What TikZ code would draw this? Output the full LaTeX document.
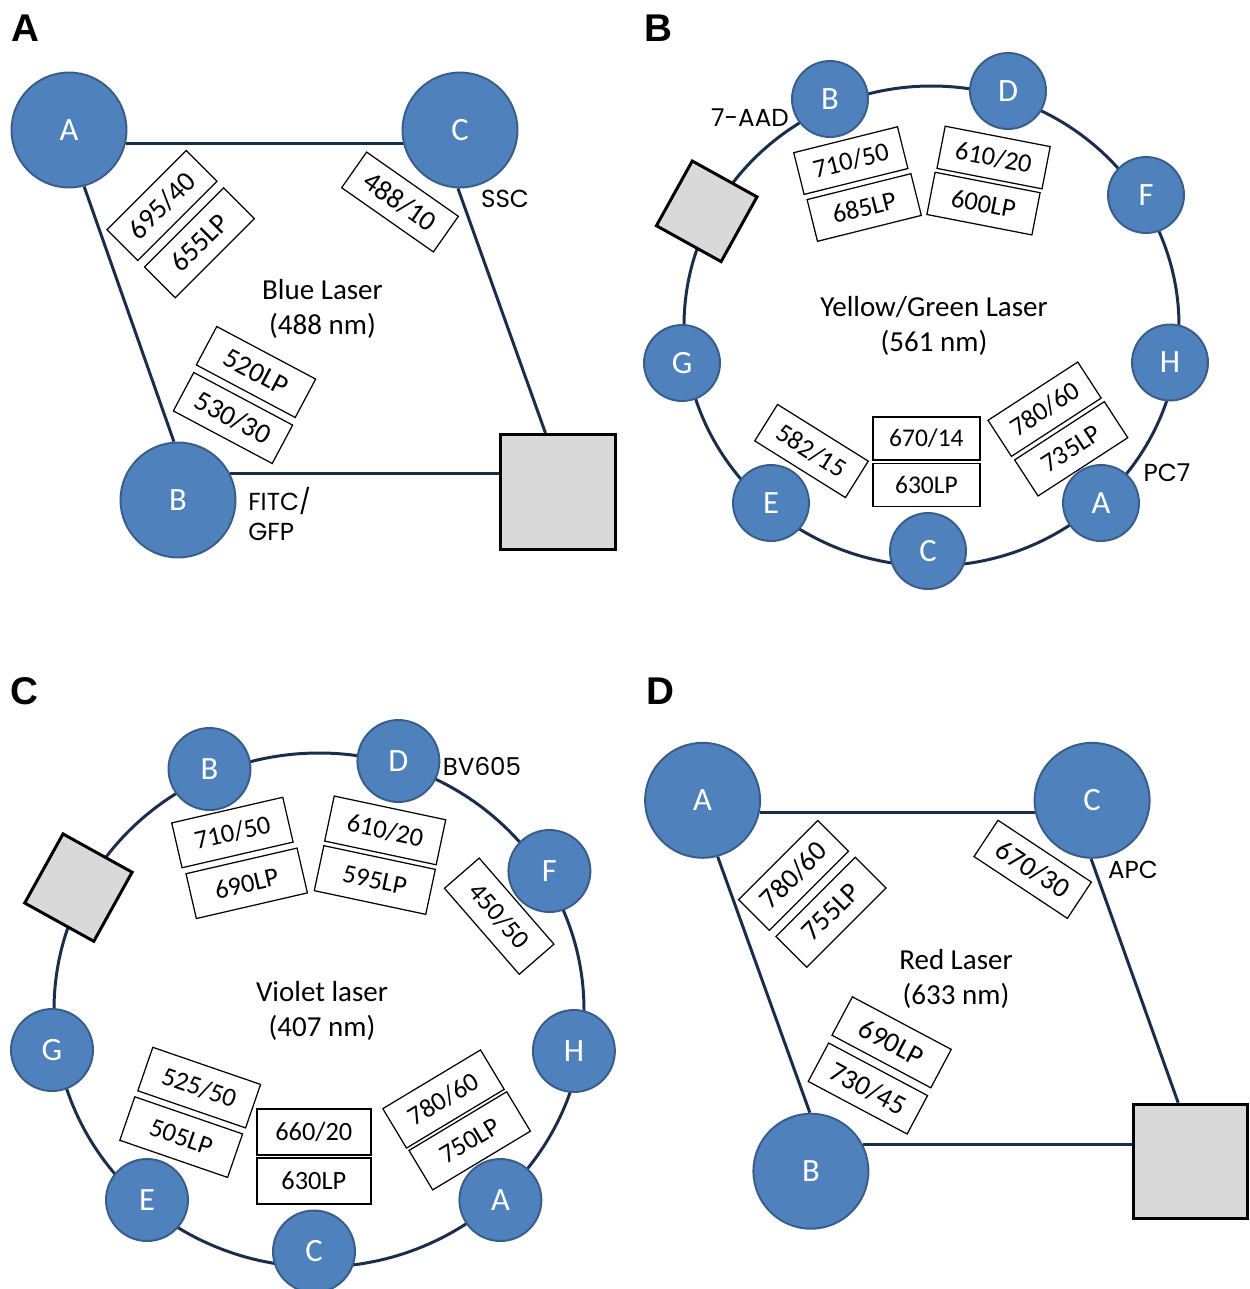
\documentclass[tikz,border=0pt]{standalone}
\usepackage{fontspec}
\setmainfont{Carlito}
\newfontfamily\notefnt{Poppins}
\newfontfamily\panelfnt{Liberation Sans}
\definecolor{detblue}{HTML}{4F81BD}
\definecolor{detedge}{HTML}{385D8A}
\definecolor{beamcol}{HTML}{1A2E4C}
\definecolor{sqgray}{HTML}{D9D9D9}
\pgfdeclarelayer{bg}
\pgfsetlayers{bg,main}
\tikzset{
  det/.style={circle, fill=detblue, draw=detedge, line width=1.1pt, text=white, font=\fontsize{18.5}{20}\selectfont, inner sep=0pt},
  bigdet/.style={det, minimum size=2.3cm},
  smalldet/.style={det, minimum size=1.52cm},
  middet/.style={det, minimum size=1.64cm},
  filt/.style={draw=black, fill=white, line width=0.7pt, inner sep=0pt, font=\fontsize{15}{17}\selectfont},
  filtAD/.style={filt, minimum width=2.24cm, minimum height=0.87cm, font=\fontsize{16}{18}\selectfont},
  filtB/.style={filt, minimum width=2.14cm, minimum height=0.86cm},
  filtC/.style={filt, minimum width=2.28cm, minimum height=0.92cm},
  flat/.style={line width=1.1pt, font=\fontsize{14.5}{17}\selectfont},
  gsq/.style={draw=black, fill=sqgray, line width=1.7pt, inner sep=0pt},
  beam/.style={draw=beamcol, line width=1.7pt},
  note/.style={font=\notefnt\fontsize{14}{17.6}\selectfont, inner sep=0pt},
  lasertitle/.style={align=center, inner sep=0pt, font=\fontsize{16.5}{20}\selectfont},
  panel/.style={font=\panelfnt\bfseries\fontsize{22}{24}\selectfont, inner sep=0pt},
}
\begin{document}
\begin{tikzpicture}[x=0.02cm, y=-0.02cm]
\useasboundingbox (0,0) rectangle (1249,1289);
\begin{pgfonlayer}{bg}
\fill[white] (0,0) rectangle (1249,1289);
\end{pgfonlayer}

% ================= Panel A =================
\node[panel] (pA) at (25,28) {A};
\node[bigdet] (A1) at (69,130) {A};
\node[bigdet] (C1) at (460,130) {C};
\node[bigdet] (B1) at (178,500) {B};
\node[gsq, minimum size=2.3cm] (S1) at (558,492) {};
\node[filtAD, rotate=45] (fa1) at (162,205.5) {695/40};
\node[filtAD, rotate=45] (fa2) at (199.4,242.8) {655LP};
\node[filtAD, rotate=-35] (fa3) at (400,202) {488/10};
\node[filtAD, rotate=-28] (fa4) at (256,372) {520LP};
\node[filtAD, rotate=-28] (fa5) at (233,418) {530/30};
\node[lasertitle] (tA) at (322.5,309) {Blue Laser\\(488 nm)};
\node[note] (nA1) at (505,199) {SSC};
\node[note, anchor=west, align=left] (nA2) at (248,514) {FITC/\\GFP};
\begin{pgfonlayer}{bg}
\draw[beam] (A1.-13) -- (A1.-13 -| C1.center);
\draw[beam] (A1.-75) -- (B1.94);
\draw[beam] (C1.-92) -- (S1.102);
\draw[beam] (B1.27) -- (B1.27 -| S1.center);
\end{pgfonlayer}

% ================= Panel B =================
\node[panel] (pB) at (658,28) {B};
\coordinate (ringB) at (931.5,326);
\begin{pgfonlayer}{bg}
\draw[beam] (ringB) ellipse [x radius=247.5, y radius=240];
\end{pgfonlayer}
\node[gsq, minimum size=1.48cm, rotate=-29] (S2) at (706.7,211.3) {};
\node[filtB, rotate=14] (fb1) at (850.8,160.6) {710/50};
\node[filtB, rotate=14] (fb2) at (864.2,207.5) {685LP};
\node[filtB, rotate=-11] (fb3) at (993.6,157.5) {610/20};
\node[filtB, rotate=-11] (fb4) at (983.5,203.6) {600LP};
\node[filtB, rotate=-32] (fb5) at (811.5,451) {582/15};
\node[filtB, flat] (fb6) at (926.4,438.4) {670/14};
\node[filtB, flat] (fb7) at (926.4,485) {630LP};
\node[filtB, rotate=33] (fb8) at (1044.6,409.2) {780/60};
\node[filtB, rotate=33] (fb9) at (1071.2,448.8) {735LP};
\node[smalldet] (B2) at (830,99) {B};
\node[smalldet] (D2) at (1008,91) {D};
\node[smalldet] (F2) at (1146,195) {F};
\node[smalldet] (H2) at (1170,362.5) {H};
\node[smalldet] (A2) at (1101,503) {A};
\node[smalldet] (C2) at (928,551) {C};
\node[smalldet] (E2) at (771,503) {E};
\node[smalldet] (G2) at (682,363) {G};
\node[lasertitle] (tB) at (934,326) {Yellow/Green Laser\\(561 nm)};
\node[note] (nB1) at (750,118) {7-AAD};
\node[note] (nB2) at (1167,473) {PC7};

% ================= Panel C =================
\node[panel] (pC) at (24,691) {C};
\coordinate (ringC) at (319,1010);
\begin{pgfonlayer}{bg}
\draw[beam] (ringC) ellipse [x radius=265, y radius=257];
\end{pgfonlayer}
\node[gsq, minimum size=1.58cm, rotate=-29] (S3) at (78.4,887.6) {};
\node[filtC, rotate=13] (fc1) at (232.4,832.5) {710/50};
\node[filtC, rotate=13] (fc2) at (246.7,883.3) {690LP};
\node[filtC, rotate=-12] (fc3) at (385.2,830.4) {610/20};
\node[filtC, rotate=-12] (fc4) at (374.8,880) {595LP};
\node[filtC, rotate=-49] (fc5) at (499.2,916.2) {450/50};
\node[filtC, rotate=-19] (fc6) at (199.2,1087.6) {525/50};
\node[filtC, rotate=-19] (fc7) at (181.2,1137.1) {505LP};
\node[filtC, flat, font=\fontsize{15}{17}\selectfont] (fc8) at (313.8,1132.2) {660/20};
\node[filtC, flat, font=\fontsize{15}{17}\selectfont] (fc9) at (313.8,1180.9) {630LP};
\node[filtC, rotate=31] (fc10) at (443.5,1099) {780/60};
\node[filtC, rotate=31] (fc11) at (469.7,1140.8) {750LP};
\node[middet] (B3) at (209.5,769) {B};
\node[middet] (D3) at (398.4,761) {D};
\node[middet] (F3) at (549.4,871) {F};
\node[middet] (H3) at (573.9,1051) {H};
\node[middet] (A3) at (500.4,1200) {A};
\node[middet] (C3) at (314,1251.5) {C};
\node[middet] (E3) at (147,1200) {E};
\node[middet] (G3) at (52,1050) {G};
\node[lasertitle] (tC) at (322,1011) {Violet laser\\(407 nm)};
\node[note] (nC1) at (482,766) {BV605};

% ================= Panel D =================
\node[panel] (pD) at (660,691) {D};
\node[bigdet] (A4) at (702.6,800.3) {A};
\node[bigdet] (C4) at (1092.1,800.3) {C};
\node[bigdet] (B4) at (810.9,1171.2) {B};
\node[gsq, minimum size=2.28cm] (S4) at (1190.6,1161.2) {};
\node[filtAD, rotate=45] (fd1) at (793.5,875.4) {780/60};
\node[filtAD, rotate=45] (fd2) at (831,912.2) {755LP};
\node[filtAD, rotate=-33.5] (fd3) at (1032.7,869.3) {670/30};
\node[filtAD, rotate=-28] (fd4) at (891.6,1042.3) {690LP};
\node[filtAD, rotate=-28] (fd5) at (867.9,1088.5) {730/45};
\node[lasertitle] (tD) at (956,979) {Red Laser\\(633 nm)};
\node[note] (nD1) at (1133,869.5) {APC};
\begin{pgfonlayer}{bg}
\draw[beam] (A4.-12) -- (A4.-12 -| C4.center);
\draw[beam] (A4.-75) -- (B4.91);
\draw[beam] (C4.-91) -- (S4.102);
\draw[beam] (B4.27) -- (B4.27 -| S4.center);
\end{pgfonlayer}
\end{tikzpicture}
\end{document}
